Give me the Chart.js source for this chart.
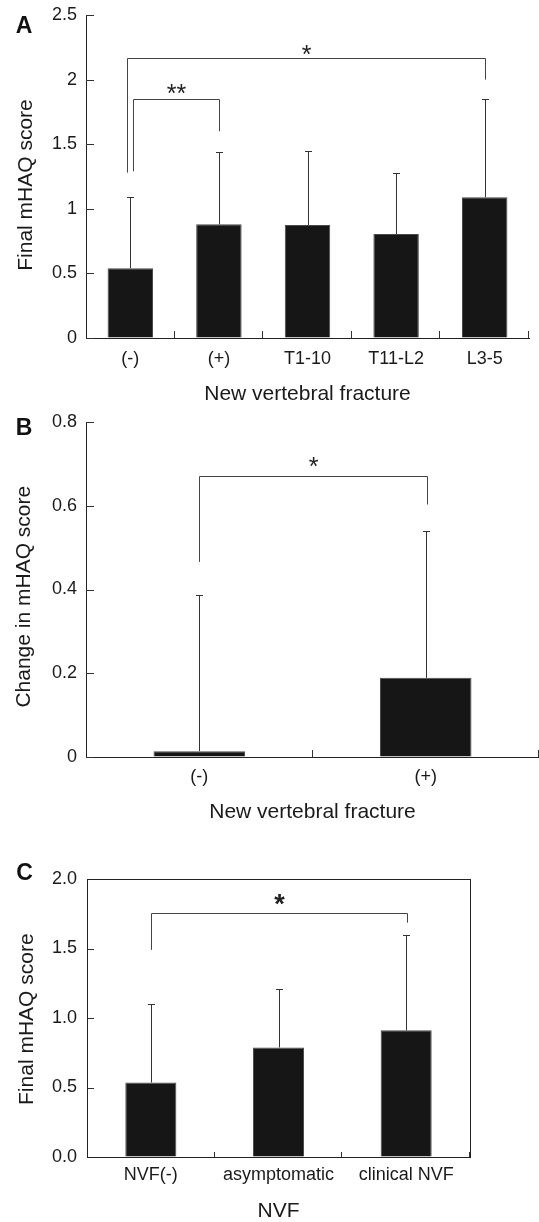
<!DOCTYPE html>
<html>
<head>
<meta charset="utf-8">
<script src="https://cdn.jsdelivr.net/npm/chart.js@4.4.0/dist/chart.umd.min.js"></script>
<style>
  html, body { margin: 0; padding: 0; background: #fff; }
  body { width: 539px; height: 1222px; position: relative; overflow: hidden; }
  canvas { position: absolute; left: 0; }
</style>
</head>
<body>
<canvas id="chartA" width="539" height="410" style="top:0px"></canvas>
<canvas id="chartB" width="539" height="420" style="top:410px"></canvas>
<canvas id="chartC" width="539" height="392" style="top:830px"></canvas>
<script>
// --- panel A: final mHAQ by new vertebral fracture site
const catsA = ['(-)', '(+)', 'T1-10', 'T11-L2', 'L3-5'];
const meanA = [0.54, 0.88, 0.875, 0.805, 1.09];
const errTopA = [1.09, 1.44, 1.45, 1.28, 1.85];
const yTicksA = ['0', '0.5', '1', '1.5', '2', '2.5'];
// [from, to, left leg end, right leg end, bracket level, star level, mark]
const sigA = [[0, 1, 1.29, 1.60, 1.85, 1.94, '**'], [0, 4, 1.28, 2.00, 2.165, 2.24, '*']];

// --- panel B: change in mHAQ
const catsB = ['(-)', '(+)'];
const meanB = [0.014, 0.189];
const errTopB = [0.386, 0.54];
const yTicksB = ['0', '0.2', '0.4', '0.6', '0.8'];
const sigB = [[0, 1, 0.466, 0.603, 0.671, 0.708, '*']];

// --- panel C: final mHAQ by NVF type
const catsC = ['NVF(-)', 'asymptomatic', 'clinical NVF'];
const meanC = [0.536, 0.788, 0.911];
const errTopC = [1.10, 1.21, 1.60];
const yTicksC = ['0.0', '0.5', '1.0', '1.5', '2.0'];
const sigC = [[0, 2, 1.49, 1.686, 1.753, 1.869, '*']];

const FONT = '"Liberation Sans", Arial, Helvetica, sans-serif';
const INK = '#1a1a1a';

const extras = {
  id: 'extras',
  afterDatasetsDraw(chart, args, o) {
    const ctx = chart.ctx;
    const xs = chart.scales.x, ys = chart.scales.y;
    const means = chart.data.datasets[0].data;
    const a = chart.chartArea;
    ctx.save();
    ctx.lineWidth = 1;
    // inward tick marks
    ctx.strokeStyle = '#333';
    ctx.beginPath();
    const n = chart.data.labels.length;
    for (let k = 1; k <= n; k++) {
      const px = Math.round(xs.left + k * (xs.right - xs.left) / n) - 0.5;
      ctx.moveTo(px, a.bottom); ctx.lineTo(px, a.bottom - o.xTick);
    }
    ys.ticks.forEach(t => {
      const py = Math.round(ys.getPixelForValue(t.value)) + 0.5;
      ctx.moveTo(a.left, py); ctx.lineTo(a.left + o.yTick, py);
    });
    ctx.stroke();
    // error bars (upper only)
    ctx.strokeStyle = '#333';
    o.errTop.forEach((v, i) => {
      const px = Math.round(xs.getPixelForValue(i)) + 0.5;
      const y0 = ys.getPixelForValue(means[i]);
      const y1 = Math.round(ys.getPixelForValue(v)) + 0.5;
      ctx.beginPath();
      ctx.moveTo(px, y0); ctx.lineTo(px, y1);
      ctx.moveTo(px - 3.5, y1); ctx.lineTo(px + 3.5, y1);
      ctx.stroke();
    });
    // significance brackets
    o.sig.forEach((s, k) => {
      const sh = (o.legShift && o.legShift[k]) || [0, 0];
      const xl = Math.round(xs.getPixelForValue(s[0]) + sh[0]) + 0.5;
      const xr = Math.round(xs.getPixelForValue(s[1]) + sh[1]) + 0.5;
      const yt = Math.round(ys.getPixelForValue(s[4])) + 0.5;
      ctx.strokeStyle = '#444';
      ctx.beginPath();
      ctx.moveTo(xl, ys.getPixelForValue(s[2]));
      ctx.lineTo(xl, yt); ctx.lineTo(xr, yt);
      ctx.lineTo(xr, ys.getPixelForValue(s[3]));
      ctx.stroke();
      ctx.fillStyle = '#222';
      ctx.font = (o.starBold ? 'bold ' : '') + o.starSize + 'px ' + FONT;
      ctx.textAlign = 'center';
      ctx.textBaseline = 'alphabetic';
      ctx.fillText(s[6], (xl + xr) / 2, ys.getPixelForValue(s[5]) + 0.58 * o.starSize);
    });
    if (o.box) {
      ctx.strokeStyle = '#222';
      ctx.strokeRect(Math.round(a.left) + 0.5, Math.round(a.top) + 0.5, Math.round(a.right - a.left), Math.round(a.bottom - a.top));
    }
    ctx.restore();
  },
  afterDraw(chart, args, o) {
    const ctx = chart.ctx;
    ctx.save();
    ctx.fillStyle = '#111';
    ctx.textAlign = 'center';
    ctx.textBaseline = 'middle';
    ctx.font = 'bold 23px ' + FONT;
    ctx.fillText(o.letter, o.letterPos[0], o.letterPos[1]);
    ctx.fillStyle = INK;
    ctx.font = '21px ' + FONT;
    ctx.translate(o.yTitlePos[0], o.yTitlePos[1]);
    ctx.rotate(-Math.PI / 2);
    ctx.fillText(o.yTitle, 0, 0);
    ctx.restore();
  }
};

function makePanel(id, p) {
  return new Chart(document.getElementById(id), {
    type: 'bar',
    data: {
      labels: p.cats,
      datasets: [{
        data: p.means,
        backgroundColor: '#161616',
        borderColor: '#4a4a4a',
        borderWidth: 1,
        categoryPercentage: 1,
        barPercentage: p.barPct
      }]
    },
    options: {
      responsive: false,
      animation: false,
      devicePixelRatio: 1,
      layout: { padding: p.pad },
      plugins: {
        legend: { display: false },
        tooltip: { enabled: false },
        extras: {
          errTop: p.errTop, sig: p.sig, legShift: p.legShift,
          starSize: p.starSize, starBold: p.starBold, box: p.box,
          xTick: p.xTick, yTick: p.yTick,
          letter: p.letter, letterPos: p.letterPos,
          yTitle: p.yTitle, yTitlePos: p.yTitlePos
        }
      },
      scales: {
        x: {
          grid: { offset: true, drawOnChartArea: false, drawTicks: false },
          border: { color: '#222' },
          ticks: { color: INK, font: { size: 18, family: FONT }, padding: p.xLabelPad, maxRotation: 0, autoSkip: false },
          title: { display: true, text: p.xTitle, color: INK, font: { size: 21, family: FONT, lineHeight: 1 }, padding: { top: 0, bottom: p.xTitlePad } },
          afterFit: s => { s.height = p.xHeight; s.paddingLeft = 0; s.paddingRight = 0; }
        },
        y: {
          min: 0,
          max: p.yMax,
          ticks: {
            stepSize: p.step,
            color: INK,
            font: { size: 18, family: FONT },
            padding: p.yLabelPad,
            callback: (v, i) => p.yTicks[i]
          },
          grid: { drawOnChartArea: false, drawTicks: false },
          border: { color: '#222' },
          afterFit: s => { s.width = p.yWidth; s.paddingTop = 0; s.paddingBottom = 0; }
        }
      }
    },
    plugins: [extras]
  });
}

makePanel('chartA', {
  cats: catsA, means: meanA, errTop: errTopA, yTicks: yTicksA, sig: sigA,
  legShift: [[3, 0], [-3, 0]], starSize: 25, starBold: false, box: false,
  barPct: 0.513, yMax: 2.5, step: 0.5,
  pad: { top: 15, right: 10, left: 0, bottom: 0 },
  yWidth: 86, xHeight: 72, xTick: 7, yTick: 8, xLabelPad: 10, yLabelPad: 9, xTitlePad: 5.5,
  xTitle: 'New vertebral fracture', yTitle: 'Final mHAQ score',
  letter: 'A', letterPos: [24, 27], yTitlePos: [26.5, 185]
});

makePanel('chartB', {
  cats: catsB, means: meanB, errTop: errTopB, yTicks: yTicksB, sig: sigB,
  legShift: [[0, 1]], starSize: 25, starBold: false, box: false,
  barPct: 0.404, yMax: 0.8, step: 0.2,
  pad: { top: 12, right: 0, left: 0, bottom: 0 },
  yWidth: 86, xHeight: 73, xTick: 7, yTick: 8, xLabelPad: 9.5, yLabelPad: 9, xTitlePad: 6.8,
  xTitle: 'New vertebral fracture', yTitle: 'Change in mHAQ score',
  letter: 'B', letterPos: [24, 18.3], yTitlePos: [24, 186.7]
});

makePanel('chartC', {
  cats: catsC, means: meanC, errTop: errTopC, yTicks: yTicksC, sig: sigC,
  legShift: [[0, 1]], starSize: 27, starBold: true, box: true,
  barPct: 0.40, yMax: 2.0, step: 0.5,
  pad: { top: 49, right: 69, left: 0, bottom: 0 },
  yWidth: 87, xHeight: 65, xTick: 5, yTick: 7, xLabelPad: 7.5, yLabelPad: 10, xTitlePad: 0,
  xTitle: 'NVF', yTitle: 'Final mHAQ score',
  letter: 'C', letterPos: [24.5, 44], yTitlePos: [26.8, 189.2]
});
</script>
</body>
</html>
